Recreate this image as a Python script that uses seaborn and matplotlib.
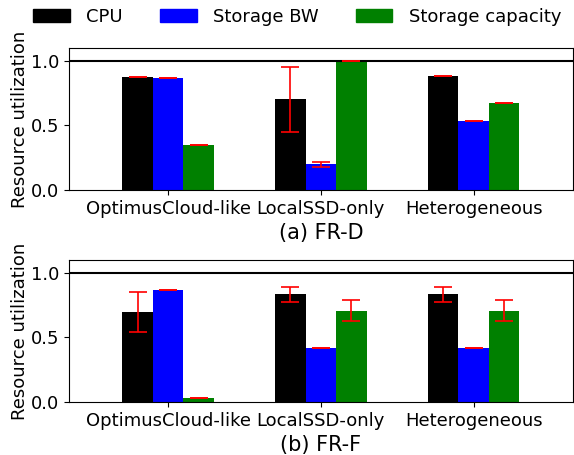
import matplotlib
matplotlib.use("Agg")
import matplotlib.pyplot as plt
import seaborn as sns
import pandas as pd
import numpy as np

categories = ["OptimusCloud-like", "LocalSSD-only", "Heterogeneous"]
series = ["CPU", "Storage BW", "Storage capacity"]
colors = ["black", "blue", "green"]

# Panel (a) FR-D
a_cpu = [0.872, 0.703, 0.883]
a_bw = [0.865, 0.203, 0.531]
a_cap = [0.35, 1.0, 0.674]
a_cpu_lo = [0.872, 0.453, 0.883]
a_cpu_hi = [0.872, 0.955, 0.883]
a_bw_lo = [0.865, 0.182, 0.531]
a_bw_hi = [0.865, 0.216, 0.531]
a_cap_lo = [0.35, 1.0, 0.674]
a_cap_hi = [0.35, 1.0, 0.674]

# Panel (b) FR-F
b_cpu = [0.70, 0.84, 0.84]
b_bw = [0.868, 0.419, 0.419]
b_cap = [0.03, 0.705, 0.705]
b_cpu_lo = [0.54, 0.777, 0.777]
b_cpu_hi = [0.855, 0.894, 0.894]
b_bw_lo = [0.868, 0.419, 0.419]
b_bw_hi = [0.868, 0.419, 0.419]
b_cap_lo = [0.03, 0.625, 0.625]
b_cap_hi = [0.03, 0.79, 0.79]

titles = ["(a) FR-D", "(b) FR-F"]
yticks = [0.0, 0.5, 1.0]


def make_df(vals, los, his):
    rows = []
    for s, v, lo, hi in zip(series, vals, los, his):
        for c, vv, l, h in zip(categories, v, lo, hi):
            rows.append({"category": c, "series": s, "value": vv, "lo": l, "hi": h})
    return pd.DataFrame(rows)


dfs = [
    make_df([a_cpu, a_bw, a_cap], [a_cpu_lo, a_bw_lo, a_cap_lo], [a_cpu_hi, a_bw_hi, a_cap_hi]),
    make_df([b_cpu, b_bw, b_cap], [b_cpu_lo, b_bw_lo, b_cap_lo], [b_cpu_hi, b_bw_hi, b_cap_hi]),
]

fig = plt.figure(figsize=(5.74, 4.55), dpi=100)
axes = [fig.add_axes([0.120, 0.582, 0.878, 0.313]),
        fig.add_axes([0.120, 0.1165, 0.878, 0.312])]

for ax, df, title in zip(axes, dfs, titles):
    sns.barplot(data=df, x="category", y="value", hue="series", order=categories,
                hue_order=series, palette=colors, saturation=1, errorbar=None,
                width=0.6, ax=ax, legend=False, linewidth=0)
    # error bars at each bar centre
    for patch_group, s in zip(ax.containers, series):
        sub = df[df["series"] == s].set_index("category").loc[categories]
        xs = [p.get_x() + p.get_width() / 2 for p in patch_group]
        v = sub["value"].values
        yerr = np.vstack([v - sub["lo"].values, sub["hi"].values - v])
        ax.errorbar(xs, v, yerr=yerr, fmt="none", ecolor="red", elinewidth=1.2,
                    capsize=6.5, capthick=1.2, zorder=5)
    ax.axhline(1.0, color="black", linewidth=1.5, zorder=1)
    ax.set_ylim(0, 1.1)
    ax.set_xlim(-0.65, 2.65)
    ax.set_yticks(yticks)
    ax.tick_params(axis="both", labelsize=13)
    ax.set_ylabel("Resource utilization", fontsize=13, labelpad=1)
    ax.set_xlabel(title, fontsize=15)

handles = [plt.Rectangle((0, 0), 1, 1, color=c) for c in colors]
fig.legend(handles, series, loc="center", ncol=3, frameon=False, fontsize=13,
           bbox_to_anchor=(0.518, 1 - 17 / 455), handlelength=2.0, handleheight=0.72,
           handletextpad=0.9, columnspacing=2.1)

fig.savefig("out.png", dpi=100)
